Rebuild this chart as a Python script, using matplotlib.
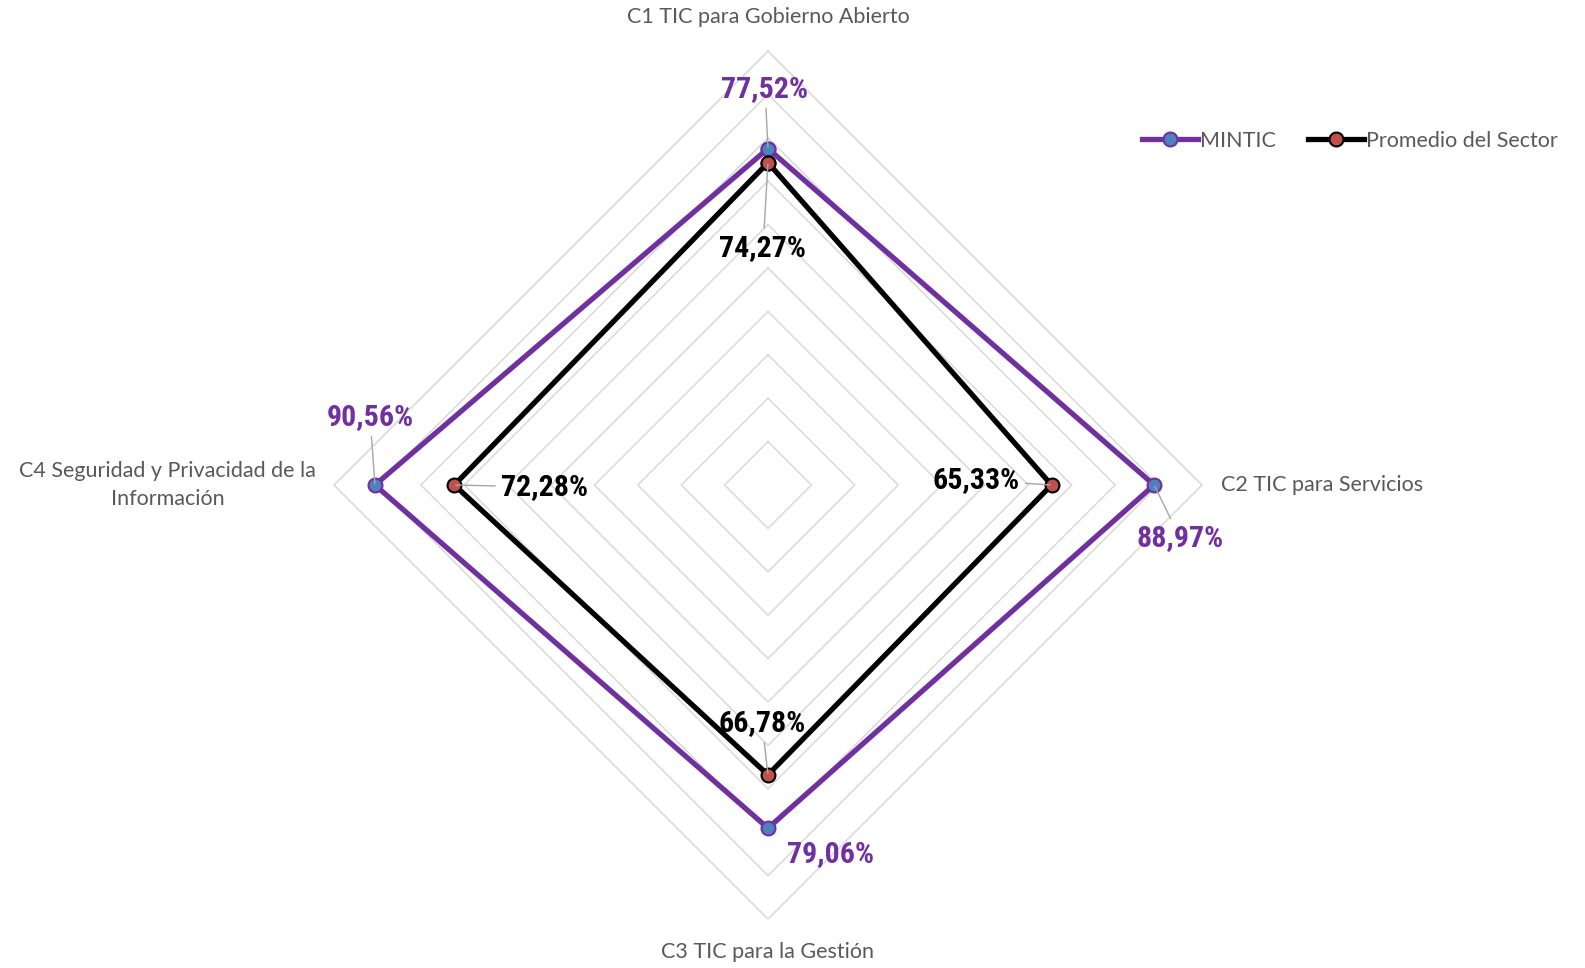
import numpy as np
import matplotlib
matplotlib.use("Agg")
import matplotlib.pyplot as plt
from matplotlib.lines import Line2D

categories = ["C1 TIC para Gobierno Abierto", "C2 TIC para Servicios",
              "C3 TIC para la Gestión", "C4 Seguridad y Privacidad de la\nInformación"]
mintic = [77.52, 88.97, 79.06, 90.56]
promedio = [74.27, 65.33, 66.78, 72.28]
series_names = ["MINTIC", "Promedio del Sector"]
grid_levels = [10, 20, 30, 40, 50, 60, 70, 80, 90, 100]
rmax = 100.0

PURPLE = "#7030A0"
BLUE = "#4F81BD"
RED = "#C0504D"
GRID = "#D9D9D9"
TXT = "#595959"

W, H = 1585, 968
fig = plt.figure(figsize=(W / 100, H / 100), dpi=100)
cx, cy, R = 768, 485, 434
ax = fig.add_axes([(cx - R) / W, (H - cy - R) / H, 2 * R / W, 2 * R / H])
ax.set_xlim(-rmax, rmax)
ax.set_ylim(-rmax, rmax)
ax.axis("off")

n = len(categories)
theta = np.arange(n) * 2 * np.pi / n  # clockwise from top


def xy(vals):
    v = np.asarray(vals, dtype=float)
    return v * np.sin(theta), v * np.cos(theta)


# grid diamonds
for g in grid_levels:
    gx, gy = xy([g] * n)
    ax.plot(np.append(gx, gx[0]), np.append(gy, gy[0]), color=GRID, lw=1.1,
            zorder=1, clip_on=False)

# series
mx, my = xy(mintic)
px, py = xy(promedio)
ax.plot(np.append(mx, mx[0]), np.append(my, my[0]), color=PURPLE, lw=3.8,
        marker="o", ms=10, mfc=BLUE, mec=PURPLE, mew=1.5, zorder=3, clip_on=False)
ax.plot(np.append(px, px[0]), np.append(py, py[0]), color="black", lw=3.8,
        marker="o", ms=10, mfc=RED, mec="black", mew=1.5, zorder=4, clip_on=False)

# category labels
cat_font = dict(family=["Lato", "DejaVu Sans"], fontsize=15.5, color=TXT)
ex, ey = xy([rmax] * n)
cat_offsets = [(0, 34, "center", "center"), (19, 0, "left", "center"),
               (0, -33, "center", "center"), (-18, 0, "right", "center")]
for i, lab in enumerate(categories):
    dx, dy, ha, va = cat_offsets[i]
    ax.annotate(lab, (ex[i], ey[i]), xytext=(dx, dy), textcoords="offset pixels",
                ha=ha, va=va, multialignment="center", linespacing=1.45,
                annotation_clip=False, **cat_font)

# data labels
lab_font = dict(family=["Roboto Condensed", "DejaVu Sans"], fontsize=21.5,
                fontweight="bold")
m_off = [(-3, 60, True), (26, -53, True), (63, -26, False), (-5, 68, True)]
p_off = [(-5, -85, True), (-75, 5, True), (-6, 52, True), (90, -2, True)]
for vals, xs, ys, offs, col in [(mintic, mx, my, m_off, PURPLE),
                                (promedio, px, py, p_off, "black")]:
    for i, v in enumerate(vals):
        dx, dy, leader = offs[i]
        txt = f"{v:.2f}%".replace(".", ",")
        ap = dict(arrowstyle="-", color="#A6A6A6", lw=1.0, shrinkA=2, shrinkB=1) if leader else None
        ax.annotate(txt, (xs[i], ys[i]), xytext=(dx, dy), textcoords="offset pixels",
                    ha="center", va="center", color=col, arrowprops=ap,
                    annotation_clip=False, zorder=6, **lab_font)

# legend
handles = [Line2D([], [], color=PURPLE, lw=3.8, marker="o", ms=10, mfc=BLUE, mec=PURPLE, mew=1.5),
           Line2D([], [], color="black", lw=3.8, marker="o", ms=10, mfc=RED, mec="black", mew=1.5)]
leg = fig.legend(handles, series_names, loc="center", bbox_to_anchor=(1350 / W, 1 - 141 / H),
                 ncol=2, frameon=False, handlelength=2.6, handletextpad=0.1, columnspacing=1.5,
                 prop=dict(family=["Lato", "DejaVu Sans"], size=15.5))
for t in leg.get_texts():
    t.set_color(TXT)

fig.savefig("out.png", dpi=100)
